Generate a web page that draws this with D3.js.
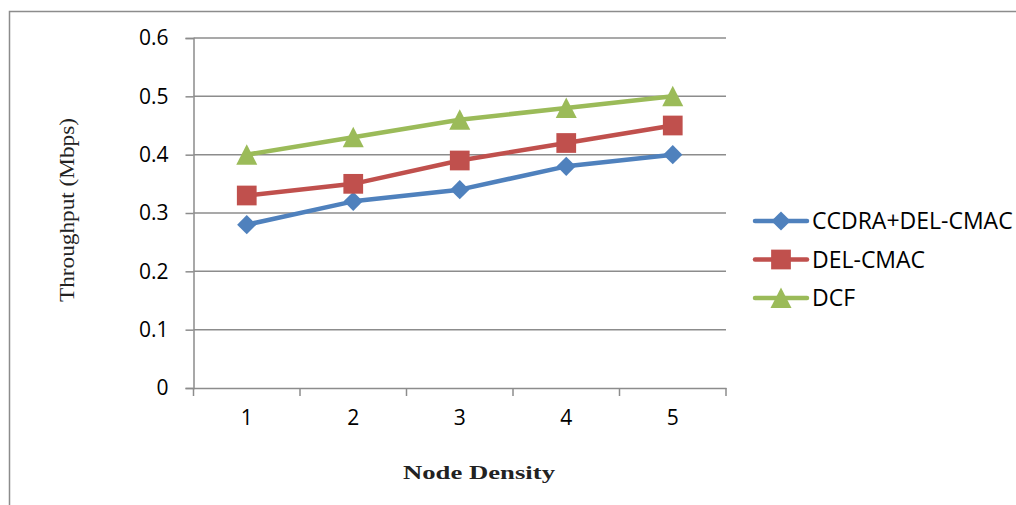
<!DOCTYPE html>
<html><head><meta charset="utf-8">
<script src="https://cdn.jsdelivr.net/npm/d3@7"></script>
<style>body{margin:0;background:#fff}svg{display:block}</style>
</head><body>
<svg id="c" width="1016" height="505"></svg>
<script>
const categories = ["1","2","3","4","5"];
const seriesNames = ["CCDRA+DEL-CMAC","DEL-CMAC","DCF"];
const ccdraValues = [0.28,0.32,0.34,0.38,0.40];
const delcmacValues = [0.33,0.35,0.39,0.42,0.45];
const dcfValues = [0.40,0.43,0.46,0.48,0.50];
const yTicks = [0,0.1,0.2,0.3,0.4,0.5,0.6];
const colors = ["#4F81BD","#C0504D","#9BBB59"];
const series = [ccdraValues, delcmacValues, dcfValues];

const svg = d3.select("#c");
const gray = "#8c8c8c";
svg.append("rect").attr("x",9.5).attr("y",11.5).attr("width",1020).attr("height",520)
  .attr("fill","none").attr("stroke",gray).attr("stroke-width",1.5);

const L=193.5, R=726, T=38, B=388;
const x = d3.scaleBand().domain(categories).range([L,R]);
const y = d3.scaleLinear().domain([0,0.6]).range([B,T]);

svg.append("g").selectAll("line").data(yTicks.slice(1)).join("line")
  .attr("x1",L).attr("x2",R).attr("y1",d=>y(d)).attr("y2",d=>y(d))
  .attr("stroke",gray).attr("stroke-width",1.5);

const fontTick = "'Open Sans', sans-serif";
const yAxis = svg.append("g").attr("transform",`translate(${L},0)`)
  .call(d3.axisLeft(y).tickValues(yTicks).tickSize(8).tickPadding(17).tickFormat(d=>d===0?"0":d3.format(".1f")(d)));
yAxis.select(".domain").attr("stroke",gray).attr("stroke-width",1.5);
yAxis.selectAll(".tick line").attr("stroke",gray).attr("stroke-width",1.5);
yAxis.selectAll("text").attr("font-family",fontTick).attr("font-size",21).attr("fill","#000");

const xAxis = svg.append("g").attr("transform",`translate(0,${B})`)
  .call(d3.axisBottom(x).tickSize(0).tickPadding(22));
xAxis.select(".domain").attr("stroke",gray).attr("stroke-width",1.5);
xAxis.selectAll("text").attr("font-family",fontTick).attr("font-size",21).attr("fill","#000");
const bounds = categories.map(c=>x(c)).concat([R]);
svg.append("g").selectAll("line").data(bounds).join("line")
  .attr("x1",d=>d).attr("x2",d=>d).attr("y1",B).attr("y2",B+8)
  .attr("stroke",gray).attr("stroke-width",1.5);

function marker(sel, si) {
  if (si === 0) {
    sel.append("path").attr("d", d3.symbol().type(d3.symbolSquare).size(185)).attr("transform","rotate(45)");
  } else if (si === 1) {
    sel.append("path").attr("d", d3.symbol().type(d3.symbolSquare).size(390));
  } else {
    sel.append("path").attr("d", "M0,-10.5L10.5,10L-10.5,10Z");
  }
  sel.selectAll("path").attr("fill", colors[si]);
}

const cx = c => x(c)+x.bandwidth()/2;
const line = d3.line().x((d,i)=>cx(categories[i])).y(d=>y(d));
series.forEach((vals,si)=>{
  svg.append("path").datum(vals).attr("d",line).attr("fill","none")
    .attr("stroke",colors[si]).attr("stroke-width",4.5).attr("stroke-linejoin","round");
});
series.forEach((vals,si)=>{
  svg.append("g").selectAll("g").data(vals).join("g")
    .attr("transform",(d,i)=>`translate(${cx(categories[i])},${y(d)})`)
    .each(function(){ marker(d3.select(this), si); });
});

const legY = [221,259.5,298];
seriesNames.forEach((n,i)=>{
  const g = svg.append("g");
  g.append("line").attr("x1",755).attr("x2",807).attr("y1",legY[i]).attr("y2",legY[i])
    .attr("stroke",colors[i]).attr("stroke-width",4.5).attr("stroke-linecap","round");
  marker(g.append("g").attr("transform",`translate(781,${legY[i]})`), i);
  g.append("text").attr("x",812).attr("y",legY[i]).attr("dy","0.36em")
    .attr("font-family",fontTick).attr("font-size",23).attr("fill","#000").text(n);
});

svg.append("text").attr("transform","translate(74,210) rotate(-90)")
  .attr("text-anchor","middle").attr("font-family","'Liberation Serif', serif")
  .attr("font-size",20).attr("textLength",184).attr("lengthAdjust","spacingAndGlyphs")
  .attr("fill","#222").text("Throughput (Mbps)");
svg.append("text").attr("x",479).attr("y",479).attr("text-anchor","middle")
  .attr("font-family","'Liberation Serif', serif").attr("font-weight","bold")
  .attr("font-size",19).attr("textLength",152).attr("lengthAdjust","spacingAndGlyphs")
  .attr("fill","#222").text("Node Density");
</script>
</body></html>
